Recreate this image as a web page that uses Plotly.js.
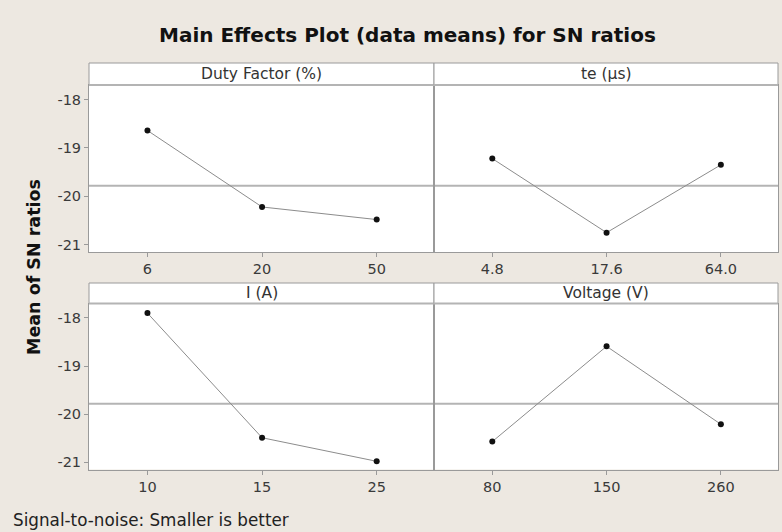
<!DOCTYPE html>
<html>
<head>
<meta charset="utf-8">
<script src="https://cdn.plot.ly/plotly-3.0.1.min.js"></script>
<style>html,body{margin:0;padding:0;background:#ede8e1;}#chart{width:782px;height:532px;}</style>
</head>
<body>
<div id="chart"></div>
<script>
// ---- data ----
const factorNames = ['Duty Factor (%)', 'te (µs)', 'I (A)', 'Voltage (V)'];
const dutyLevels = ['6', '20', '50'];
const dutySN = [-18.64, -20.22, -20.48];
const teLevels = ['4.8', '17.6', '64.0'];
const teSN = [-19.22, -20.75, -19.35];
const currentLevels = ['10', '15', '25'];
const currentSN = [-17.90, -20.49, -20.98];
const voltageLevels = ['80', '150', '260'];
const voltageSN = [-20.57, -18.59, -20.21];
const yTicks = [-18, -19, -20, -21];

const W = 782, H = 532;
const px = v => v / W;
const py = v => (H - v) / H;

const levels = [dutyLevels, teLevels, currentLevels, voltageLevels];
const sns = [dutySN, teSN, currentSN, voltageSN];
const allVals = [].concat(dutySN, teSN, currentSN, voltageSN);
const grandMean = allVals.reduce((a, b) => a + b, 0) / allVals.length;

const xDom = [[px(89), px(434)], [px(434), px(778)]];
const yDom = [[py(252), py(85)], [py(469.5), py(303.5)]];
const stripY = [[py(85), py(63)], [py(303.5), py(283)]];

const tickFont = {family: 'DejaVu Sans', size: 14.5, color: '#3a3a3a'};

const traces = [];
const layout = {
  width: W, height: H,
  margin: {l: 0, r: 0, t: 0, b: 0},
  paper_bgcolor: '#ede8e1',
  plot_bgcolor: '#ffffff',
  showlegend: false,
  shapes: [],
  annotations: []
};

for (let i = 0; i < 4; i++) {
  const row = Math.floor(i / 2), col = i % 2;
  const n = i + 1;
  const xa = n === 1 ? 'x' : 'x' + n;
  const ya = n === 1 ? 'y' : 'y' + n;
  traces.push({
    type: 'scatter', mode: 'lines+markers',
    x: levels[i], y: sns[i], xaxis: xa, yaxis: ya,
    line: {color: '#8c8c8c', width: 1},
    marker: {color: '#111111', size: 6},
    hoverinfo: 'x+y'
  });
  const xKey = n === 1 ? 'xaxis' : 'xaxis' + n;
  const yKey = n === 1 ? 'yaxis' : 'yaxis' + n;
  layout[xKey] = {
    domain: xDom[col], anchor: ya, type: 'category',
    range: [-0.51, 2.5],
    showline: true, mirror: true, linecolor: '#9a9a9a', linewidth: 1,
    ticks: 'outside', ticklen: 4, tickcolor: '#9a9a9a',
    showgrid: false, zeroline: false,
    tickfont: tickFont
  };
  layout[yKey] = {
    domain: yDom[row], anchor: xa,
    range: [-21.15, -17.7],
    tickvals: yTicks, ticktext: yTicks.map(String),
    showticklabels: col === 0,
    ticks: col === 0 ? 'outside' : '', ticklen: 4, tickcolor: '#9a9a9a',
    showline: true, mirror: true, linecolor: '#9a9a9a', linewidth: 1,
    showgrid: false, zeroline: false,
    tickfont: tickFont
  };
  // grand mean reference line
  layout.shapes.push({
    type: 'line', xref: xa + ' domain', yref: ya,
    x0: 0, x1: 1, y0: grandMean, y1: grandMean,
    line: {color: '#b4b4b4', width: 2}, layer: 'below'
  });
  // strip header
  layout.shapes.push({
    type: 'rect', xref: 'paper', yref: 'paper',
    x0: xDom[col][0], x1: xDom[col][1], y0: stripY[row][0], y1: stripY[row][1],
    fillcolor: '#ffffff', line: {color: '#9a9a9a', width: 1}
  });
  layout.shapes.push({
    type: 'line', xref: 'paper', yref: 'paper',
    x0: xDom[col][0], x1: xDom[col][1], y0: stripY[row][0], y1: stripY[row][0],
    line: {color: '#b4b4b4', width: 2}
  });
  layout.annotations.push({
    xref: 'paper', yref: 'paper',
    x: (xDom[col][0] + xDom[col][1]) / 2, y: (stripY[row][0] + stripY[row][1]) / 2,
    xanchor: 'center', yanchor: 'middle', showarrow: false,
    text: factorNames[i],
    font: {family: 'DejaVu Sans', size: 15.5, color: '#333333'}
  });
}

layout.annotations.push({
  xref: 'paper', yref: 'paper', x: px(407), y: py(35),
  xanchor: 'center', yanchor: 'middle', showarrow: false,
  text: '<b>Main Effects Plot (data means) for SN ratios</b>',
  font: {family: 'DejaVu Sans', size: 20, color: '#111111'}
});
layout.annotations.push({
  xref: 'paper', yref: 'paper', x: px(34), y: py(267),
  xanchor: 'center', yanchor: 'middle', showarrow: false, textangle: -90,
  text: '<b>Mean of SN ratios</b>',
  font: {family: 'DejaVu Sans', size: 17.5, color: '#111111'}
});
layout.annotations.push({
  xref: 'paper', yref: 'paper', x: px(11), y: py(520),
  xanchor: 'left', yanchor: 'middle', showarrow: false,
  text: 'Signal-to-noise: Smaller is better',
  font: {family: 'DejaVu Sans', size: 16.8, color: '#222222'}
});

Plotly.newPlot('chart', traces, layout, {displayModeBar: false, staticPlot: true});
</script>
</body>
</html>
